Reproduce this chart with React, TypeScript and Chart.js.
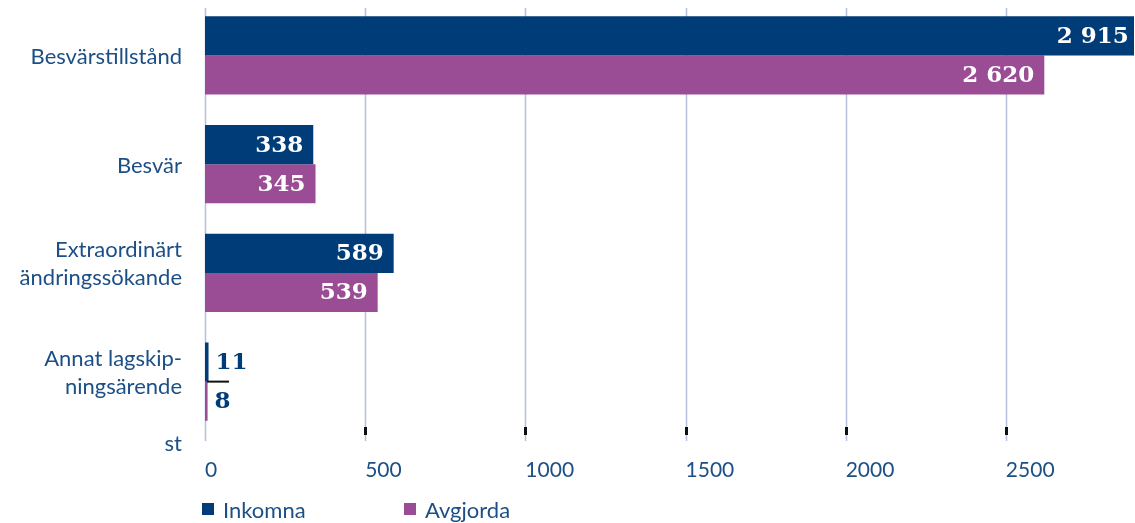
import React, { useEffect, useRef } from "react";
import { Chart, registerables } from "chart.js";

Chart.register(...registerables);

const categories: (string | string[])[] = [
  "Besvärstillstånd",
  "Besvär",
  ["Extraordinärt", "ändringssökande"],
  ["Annat lagskip-", "ningsärende"],
];
const inkomna = [2915, 338, 589, 11];
const avgjorda = [2620, 345, 539, 8];
const xTickValues = [0, 500, 1000, 1500, 2000, 2500];
const seriesNames = ["Inkomna", "Avgjorda"];
const unitLabel = "st";

const BLUE = "#003d78";
const PURPLE = "#9a4c94";
const TEXT = "#1c4f86";
const GRID = "#b5c1d9";
const SANS = "Lato, 'Open Sans', sans-serif";
const SERIF = "'DejaVu Serif', serif";

const fmt = (v: number) => String(v).replace(/\B(?=(\d{3})+(?!\d))/g, " ");

const gridPlugin = {
  id: "customGrid",
  beforeDatasetsDraw(chart: any) {
    const { ctx } = chart;
    const xs = chart.scales.x;
    ctx.save();
    xTickValues.forEach((v) => {
      const x = Math.round(xs.getPixelForValue(v)) + 0.5;
      ctx.strokeStyle = GRID;
      ctx.lineWidth = 1.5;
      ctx.beginPath();
      ctx.moveTo(x, 8);
      ctx.lineTo(x, 441);
      ctx.stroke();
      if (v > 0) {
        ctx.fillStyle = "#111";
        ctx.fillRect(x - 1.5, 427, 3, 8);
      }
    });
    ctx.restore();
  },
};

const labelPlugin = {
  id: "barLabels",
  afterDatasetsDraw(chart: any) {
    const { ctx } = chart;
    ctx.save();
    // category labels
    const ys = chart.scales.y;
    ctx.font = `22px ${SANS}`;
    ctx.fillStyle = TEXT;
    ctx.textAlign = "right";
    ctx.textBaseline = "middle";
    categories.forEach((c, i) => {
      const lines = Array.isArray(c) ? c : [c];
      const cy = ys.getPixelForTick(i);
      const lh = 28;
      const shift = lines.length > 1 ? -9 : 2;
      const top = cy + shift - ((lines.length - 1) * lh) / 2;
      lines.forEach((ln, k) => ctx.fillText(ln, 182, top + k * lh));
    });
    ctx.font = `bold 23px ${SERIF}`;
    chart.data.datasets.forEach((ds: any, di: number) => {
      const meta = chart.getDatasetMeta(di);
      meta.data.forEach((bar: any, i: number) => {
        const v = ds.data[i] as number;
        const txt = fmt(v);
        if (v > 100) {
          ctx.fillStyle = "#ffffff";
          ctx.textAlign = "right";
          ctx.fillText(txt, bar.x - 10, bar.y + 1);
        } else {
          ctx.fillStyle = BLUE;
          ctx.textAlign = "left";
          ctx.fillText(txt, bar.x + 7, bar.y + 1);
        }
      });
    });
    // small black rule under the smallest value
    const m0 = chart.getDatasetMeta(0);
    const last = m0.data[m0.data.length - 1];
    if (last) {
      const x0 = chart.scales.x.getPixelForValue(0);
      const yb = last.y + last.height / 2;
      ctx.fillStyle = "#111";
      ctx.fillRect(x0 + 2, yb - 1, 22, 2);
    }
    // unit label
    ctx.font = `22px ${SANS}`;
    ctx.fillStyle = TEXT;
    ctx.textAlign = "right";
    ctx.fillText(unitLabel, 182, 444);
    // legend
    const legendX = [202, 404];
    chart.data.datasets.forEach((ds: any, di: number) => {
      const lx = legendX[di];
      ctx.fillStyle = ds.backgroundColor;
      ctx.fillRect(lx, 503, 12, 12);
      ctx.fillStyle = TEXT;
      ctx.textAlign = "left";
      ctx.fillText(ds.label, lx + 21, 511);
    });
    ctx.restore();
  },
};

export default function App() {
  const ref = useRef<HTMLCanvasElement>(null);
  useEffect(() => {
    if (!ref.current) return;
    const chart = new Chart(ref.current, {
      type: "bar",
      data: {
        labels: categories as any,
        datasets: [
          { label: seriesNames[0], data: inkomna, backgroundColor: BLUE },
          { label: seriesNames[1], data: avgjorda, backgroundColor: PURPLE },
        ],
      },
      options: {
        indexAxis: "y",
        animation: false,
        responsive: true,
        maintainAspectRatio: false,
        layout: { padding: { top: 1, right: 1, left: 0, bottom: 0 } },
        datasets: { bar: { barPercentage: 1, categoryPercentage: 0.72 } },
        plugins: { legend: { display: false }, tooltip: { enabled: false } },
        scales: {
          x: {
            min: 0,
            max: 2900,
            afterBuildTicks: (s: any) => {
              s.ticks = xTickValues.map((v) => ({ value: v }));
            },
            afterFit: (s: any) => {
              s.height = 87;
              s.paddingLeft = 0;
              s.paddingRight = 0;
            },
            grid: { display: false, drawTicks: false },
            border: { display: false },
            ticks: {
              align: "start",
              padding: 22,
              color: TEXT,
              font: { family: SANS, size: 21 },
              maxRotation: 0,
              autoSkip: false,
              callback: (v: any) => String(v),
            },
          },
          y: {
            afterFit: (s: any) => {
              s.width = 205;
              s.paddingTop = 0;
              s.paddingBottom = 0;
            },
            grid: { display: false, drawTicks: false },
            border: { display: false },
            ticks: { display: false },
          },
        },
      },
      plugins: [gridPlugin, labelPlugin],
    });
    return () => chart.destroy();
  }, []);
  return (
    <div style={{ position: "absolute", left: 0, top: 0, width: 1135, height: 523 }}>
      <canvas ref={ref} />
    </div>
  );
}
